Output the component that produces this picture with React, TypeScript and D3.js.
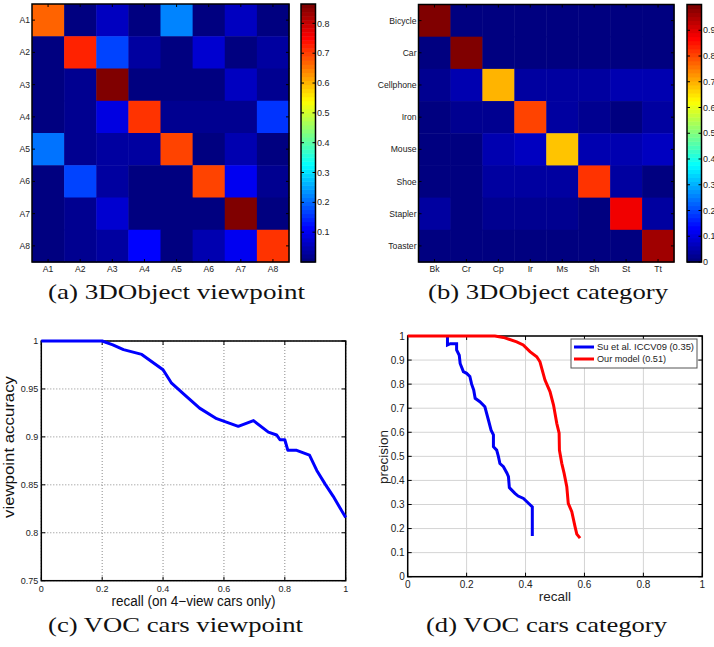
import { useEffect, useRef } from "react";
import * as d3 from "d3";

// (a) 3DObject viewpoint confusion matrix
const viewLabels = ["A1", "A2", "A3", "A4", "A5", "A6", "A7", "A8"];
const viewMatrix = [
  [0.67, 0.01, 0.06, 0.01, 0.225, 0.01, 0.055, 0.01],
  [0.01, 0.72, 0.17, 0.035, 0.01, 0.08, 0.01, 0.028],
  [0.01, 0.02, 0.865, 0.01, 0.01, 0.01, 0.06, 0.02],
  [0.01, 0.02, 0.085, 0.705, 0.025, 0.025, 0.02, 0.155],
  [0.21, 0.02, 0.036, 0.028, 0.69, 0.01, 0.044, 0.01],
  [0.01, 0.175, 0.036, 0.01, 0.01, 0.7, 0.095, 0.02],
  [0.01, 0.02, 0.078, 0.01, 0.01, 0.01, 0.865, 0.01],
  [0.01, 0.02, 0.036, 0.12, 0.01, 0.044, 0.095, 0.71],
];
const viewTicks = [0.1, 0.2, 0.3, 0.4, 0.5, 0.6, 0.7, 0.8];

// (b) 3DObject category confusion matrix
const catRowLabels = ["Bicycle", "Car", "Cellphone", "Iron", "Mouse", "Shoe", "Stapler", "Toaster"];
const catColLabels = ["Bk", "Cr", "Cp", "Ir", "Ms", "Sh", "St", "Tt"];
const catMatrix = [
  [0.99, 0.01, 0.01, 0.01, 0.01, 0.01, 0.01, 0.01],
  [0.01, 0.99, 0.01, 0.01, 0.01, 0.01, 0.01, 0.01],
  [0.03, 0.05, 0.69, 0.04, 0.04, 0.04, 0.055, 0.05],
  [0.01, 0.025, 0.025, 0.806, 0.04, 0.02, 0.015, 0.045],
  [0.015, 0.01, 0.05, 0.07, 0.68, 0.05, 0.05, 0.075],
  [0.015, 0.01, 0.04, 0.04, 0.04, 0.82, 0.04, 0.005],
  [0.04, 0.01, 0.03, 0.03, 0.03, 0.01, 0.875, 0.04],
  [0.015, 0.015, 0.015, 0.015, 0.015, 0.015, 0.015, 0.96],
];
const catTicks = [0, 0.1, 0.2, 0.3, 0.4, 0.5, 0.6, 0.7, 0.8, 0.9];

// (c) VOC cars viewpoint
const viewRecall = [0, 0.2, 0.235, 0.27, 0.33, 0.4, 0.428, 0.47, 0.52, 0.576, 0.647, 0.697, 0.746, 0.773, 0.784, 0.8, 0.81, 0.839, 0.881, 0.905, 0.932, 0.959, 0.981, 1.0];
const viewAccuracy = [1, 1, 0.996, 0.991, 0.986, 0.97, 0.956, 0.944, 0.93, 0.919, 0.911, 0.917, 0.905, 0.902, 0.897, 0.897, 0.886, 0.886, 0.881, 0.865, 0.851, 0.838, 0.826, 0.816];
const cXTicks = [0, 0.2, 0.4, 0.6, 0.8, 1];
const cYTicks = [0.75, 0.8, 0.85, 0.9, 0.95, 1];

// (d) VOC cars category
const suRecall = [0.135, 0.135, 0.145, 0.166, 0.166, 0.175, 0.178, 0.189, 0.2, 0.211, 0.217, 0.224, 0.229, 0.245, 0.262, 0.274, 0.283, 0.291, 0.291, 0.302, 0.308, 0.313, 0.325, 0.337, 0.342, 0.345, 0.364, 0.375, 0.393, 0.41, 0.423, 0.423];
const suPrecision = [1.0, 0.963, 0.968, 0.968, 0.942, 0.92, 0.886, 0.852, 0.845, 0.832, 0.8, 0.776, 0.741, 0.727, 0.706, 0.651, 0.609, 0.589, 0.54, 0.526, 0.499, 0.47, 0.457, 0.43, 0.416, 0.37, 0.346, 0.335, 0.325, 0.305, 0.29, 0.169];
const ourRecall = [0, 0.296, 0.325, 0.37, 0.392, 0.415, 0.438, 0.449, 0.466, 0.483, 0.495, 0.506, 0.514, 0.515, 0.523, 0.531, 0.54, 0.545, 0.557, 0.568, 0.574, 0.585];
const ourPrecision = [1, 1, 0.994, 0.976, 0.963, 0.935, 0.914, 0.893, 0.817, 0.769, 0.713, 0.637, 0.596, 0.526, 0.471, 0.429, 0.374, 0.305, 0.27, 0.208, 0.177, 0.16];
const legendLabels = ["Su et al. ICCV09 (0.35)", "Our model (0.51)"];
const dXTicks = [0, 0.2, 0.4, 0.6, 0.8, 1];
const dYTicks = [0, 0.1, 0.2, 0.3, 0.4, 0.5, 0.6, 0.7, 0.8, 0.9, 1];

const captions = ["(a) 3DObject viewpoint", "(b) 3DObject category", "(c) VOC cars viewpoint", "(d) VOC cars category"];

const SANS = "'Liberation Sans', Arial, Helvetica, sans-serif";
const SERIF = "'Liberation Serif', 'Times New Roman', serif";

// matlab jet, 64 levels
const jet = (t: number) => {
  const lvl = Math.max(0, Math.min(63, Math.floor(t * 64)));
  const u = lvl / 63;
  const c = (v: number) => Math.max(0, Math.min(1, v)) * 255;
  return d3.rgb(c(1.5 - Math.abs(4 * u - 3)), c(1.5 - Math.abs(4 * u - 2)), c(1.5 - Math.abs(4 * u - 1))).toString();
};

const fmt = (v: number) => (v === 0 ? "0" : v === 1 ? "1" : String(+v.toFixed(2)));

type Box = { left: number; right: number; top: number; bottom: number };

function drawMatrix(svg: any, matrix: number[][], rowLabels: string[], colLabels: string[], box: Box, cb: Box, vmax: number, ticks: number[]) {
  const g = svg.append("g");
  const x = d3.scaleBand<number>().domain(d3.range(colLabels.length)).range([box.left, box.right]);
  const y = d3.scaleBand<number>().domain(d3.range(rowLabels.length)).range([box.top, box.bottom]);
  const color = d3.scaleLinear().domain([0, vmax]).range([0, 1]).clamp(true);

  matrix.forEach((row, i) => {
    row.forEach((v, j) => {
      g.append("rect")
        .attr("x", x(j))
        .attr("y", y(i))
        .attr("width", x.bandwidth() + 0.5)
        .attr("height", y.bandwidth() + 0.5)
        .attr("fill", jet(color(v)));
    });
  });

  // ticks inside
  const tl = 3;
  d3.range(colLabels.length).forEach((j) => {
    const cx = x(j)! + x.bandwidth() / 2;
    g.append("line").attr("x1", cx).attr("x2", cx).attr("y1", box.bottom).attr("y2", box.bottom - tl).attr("stroke", "#000");
    g.append("line").attr("x1", cx).attr("x2", cx).attr("y1", box.top).attr("y2", box.top + tl).attr("stroke", "#000");
  });
  d3.range(rowLabels.length).forEach((i) => {
    const cy = y(i)! + y.bandwidth() / 2;
    g.append("line").attr("x1", box.left).attr("x2", box.left + tl).attr("y1", cy).attr("y2", cy).attr("stroke", "#000");
    g.append("line").attr("x1", box.right).attr("x2", box.right - tl).attr("y1", cy).attr("y2", cy).attr("stroke", "#000");
  });

  g.append("rect")
    .attr("x", box.left).attr("y", box.top)
    .attr("width", box.right - box.left).attr("height", box.bottom - box.top)
    .attr("fill", "none").attr("stroke", "#000").attr("stroke-width", 1.5);

  g.selectAll(".rl").data(rowLabels).enter().append("text")
    .attr("x", box.left - 2)
    .attr("y", (_: string, i: number) => y(i)! + y.bandwidth() / 2)
    .attr("dy", "0.35em")
    .attr("text-anchor", "end")
    .attr("font-family", SANS).attr("font-size", 8.6).attr("fill", "#222")
    .text((d: string) => d);

  g.selectAll(".cl").data(colLabels).enter().append("text")
    .attr("x", (_: string, j: number) => x(j)! + x.bandwidth() / 2)
    .attr("y", box.bottom + 7)
    .attr("dy", "0.35em")
    .attr("text-anchor", "middle")
    .attr("font-family", SANS).attr("font-size", 8.6).attr("fill", "#222")
    .text((d: string) => d);

  // colorbar
  const cy = d3.scaleLinear().domain([0, vmax]).range([cb.bottom, cb.top]);
  d3.range(64).forEach((k) => {
    const v0 = (k / 64) * vmax;
    const v1 = ((k + 1) / 64) * vmax;
    g.append("rect")
      .attr("x", cb.left).attr("y", cy(v1))
      .attr("width", cb.right - cb.left).attr("height", cy(v0) - cy(v1) + 0.5)
      .attr("fill", jet((k + 0.5) / 64));
  });
  ticks.forEach((t) => {
    g.append("line").attr("x1", cb.right).attr("x2", cb.right - 3).attr("y1", cy(t)).attr("y2", cy(t)).attr("stroke", "#000");
    g.append("line").attr("x1", cb.left).attr("x2", cb.left + 3).attr("y1", cy(t)).attr("y2", cy(t)).attr("stroke", "#000");
    g.append("text")
      .attr("x", cb.right + 1.5).attr("y", cy(t)).attr("dy", "0.35em")
      .attr("font-family", SANS).attr("font-size", 9).attr("fill", "#222")
      .text(fmt(t));
  });
  g.append("rect")
    .attr("x", cb.left).attr("y", cb.top)
    .attr("width", cb.right - cb.left).attr("height", cb.bottom - cb.top)
    .attr("fill", "none").attr("stroke", "#000").attr("stroke-width", 1.5);
}

function drawAxes(svg: any, box: Box, xDom: number[], yDom: number[], xt: number[], yt: number[], gridStyle: { stroke: string; dash: string | null }, tickFont: number) {
  const g = svg.append("g");
  const x = d3.scaleLinear().domain(xDom).range([box.left, box.right]);
  const y = d3.scaleLinear().domain(yDom).range([box.bottom, box.top]);

  g.append("rect")
    .attr("x", box.left).attr("y", box.top)
    .attr("width", box.right - box.left).attr("height", box.bottom - box.top)
    .attr("fill", "#fff");

  xt.forEach((t) => {
    g.append("line").attr("x1", x(t)).attr("x2", x(t)).attr("y1", box.top).attr("y2", box.bottom)
      .attr("stroke", gridStyle.stroke).attr("stroke-width", 1).attr("stroke-dasharray", gridStyle.dash);
  });
  yt.forEach((t) => {
    g.append("line").attr("x1", box.left).attr("x2", box.right).attr("y1", y(t)).attr("y2", y(t))
      .attr("stroke", gridStyle.stroke).attr("stroke-width", 1).attr("stroke-dasharray", gridStyle.dash);
  });

  const tl = 4;
  xt.forEach((t) => {
    g.append("line").attr("x1", x(t)).attr("x2", x(t)).attr("y1", box.bottom).attr("y2", box.bottom - tl).attr("stroke", "#000");
    g.append("line").attr("x1", x(t)).attr("x2", x(t)).attr("y1", box.top).attr("y2", box.top + tl).attr("stroke", "#000");
    g.append("text")
      .attr("x", x(t)).attr("y", box.bottom + 8).attr("dy", "0.35em")
      .attr("text-anchor", "middle")
      .attr("font-family", SANS).attr("font-size", tickFont).attr("fill", "#222")
      .text(fmt(t));
  });
  yt.forEach((t) => {
    g.append("line").attr("x1", box.left).attr("x2", box.left + tl).attr("y1", y(t)).attr("y2", y(t)).attr("stroke", "#000");
    g.append("line").attr("x1", box.right).attr("x2", box.right - tl).attr("y1", y(t)).attr("y2", y(t)).attr("stroke", "#000");
    g.append("text")
      .attr("x", box.left - 3).attr("y", y(t)).attr("dy", "0.35em")
      .attr("text-anchor", "end")
      .attr("font-family", SANS).attr("font-size", tickFont).attr("fill", "#222")
      .text(fmt(t));
  });

  g.append("rect")
    .attr("x", box.left).attr("y", box.top)
    .attr("width", box.right - box.left).attr("height", box.bottom - box.top)
    .attr("fill", "none").attr("stroke", "#000").attr("stroke-width", 1.5);

  return { x, y, g };
}

const App = () => {
  const ref = useRef<SVGSVGElement>(null);

  useEffect(() => {
    const svg = d3.select(ref.current);
    svg.selectAll("*").remove();

    svg.append("rect").attr("width", 714).attr("height", 647).attr("fill", "#fff");

    drawMatrix(svg, viewMatrix, viewLabels, viewLabels,
      { left: 32, right: 289, top: 4, bottom: 262 },
      { left: 301, right: 315.5, top: 4, bottom: 262 }, 0.865, viewTicks);

    drawMatrix(svg, catMatrix, catRowLabels, catColLabels,
      { left: 418.5, right: 674, top: 4.5, bottom: 262 },
      { left: 687, right: 701.5, top: 4.5, bottom: 262 }, 1.0, catTicks);

    // (c)
    const c = drawAxes(svg, { left: 41.3, right: 345.7, top: 341, bottom: 580.7 }, [0, 1], [0.75, 1],
      cXTicks, cYTicks, { stroke: "#8a8a8a", dash: "1 2" }, 9);
    const lineC = d3.line<number>().x((_, i) => c.x(viewRecall[i])).y((d) => c.y(d));
    svg.append("path").datum(viewAccuracy).attr("d", lineC)
      .attr("fill", "none").attr("stroke", "#0000ff").attr("stroke-width", 3).attr("stroke-linejoin", "round");
    svg.append("text")
      .attr("x", 193.5).attr("y", 606).attr("text-anchor", "middle")
      .attr("font-family", SANS).attr("font-size", 14).attr("fill", "#111")
      .attr("textLength", 164).attr("lengthAdjust", "spacingAndGlyphs")
      .text("recall (on 4\u2212view cars only)");
    svg.append("text")
      .attr("transform", "translate(14,447) rotate(-90)").attr("text-anchor", "middle")
      .attr("font-family", SANS).attr("font-size", 14).attr("fill", "#111")
      .attr("textLength", 142).attr("lengthAdjust", "spacingAndGlyphs")
      .text("viewpoint accuracy");

    // (d)
    const d = drawAxes(svg, { left: 407.7, right: 702.3, top: 336, bottom: 576.7 }, [0, 1], [0, 1],
      dXTicks, dYTicks, { stroke: "#d4d4d4", dash: null }, 10);
    const lineSu = d3.line<number>().x((_, i) => d.x(suRecall[i])).y((v) => d.y(v));
    const lineOur = d3.line<number>().x((_, i) => d.x(ourRecall[i])).y((v) => d.y(v));
    svg.append("path").datum(suPrecision).attr("d", lineSu)
      .attr("fill", "none").attr("stroke", "#0000f5").attr("stroke-width", 3);
    svg.append("path").datum(ourPrecision).attr("d", lineOur)
      .attr("fill", "none").attr("stroke", "#ff0000").attr("stroke-width", 3);

    const leg = svg.append("g");
    leg.append("rect").attr("x", 571).attr("y", 339).attr("width", 126).attr("height", 29)
      .attr("fill", "#fff").attr("stroke", "#555").attr("stroke-width", 1);
    const legColors = ["#0000f5", "#ff0000"];
    const legWidths = [97, 69];
    legendLabels.forEach((lab, i) => {
      const ly = 347 + i * 12;
      leg.append("line").attr("x1", 574).attr("x2", 594).attr("y1", ly).attr("y2", ly)
        .attr("stroke", legColors[i]).attr("stroke-width", 3);
      leg.append("text").attr("x", 597).attr("y", ly).attr("dy", "0.35em")
        .attr("font-family", SANS).attr("font-size", 9.6).attr("fill", "#222")
        .attr("textLength", legWidths[i]).attr("lengthAdjust", "spacingAndGlyphs")
        .text(lab);
    });

    svg.append("text")
      .attr("x", 555).attr("y", 601).attr("text-anchor", "middle")
      .attr("font-family", SANS).attr("font-size", 13.5).attr("fill", "#222")
      .text("recall");
    svg.append("text")
      .attr("transform", "translate(388,457) rotate(-90)").attr("text-anchor", "middle")
      .attr("font-family", SANS).attr("font-size", 13.5).attr("fill", "#222")
      .text("precision");

    // captions
    const capPos = [
      { x: 48, y: 299, w: 257 },
      { x: 428, y: 299, w: 240 },
      { x: 48, y: 632, w: 255 },
      { x: 426, y: 632, w: 241 },
    ];
    captions.forEach((t, i) => {
      svg.append("text")
        .attr("x", capPos[i].x).attr("y", capPos[i].y)
        .attr("font-family", SERIF).attr("font-size", 22).attr("fill", "#111")
        .attr("textLength", capPos[i].w).attr("lengthAdjust", "spacingAndGlyphs")
        .text(t);
    });
  }, []);

  return (
    <svg
      ref={ref}
      width={714}
      height={647}
      style={{ position: "absolute", left: 0, top: 0, display: "block" }}
    />
  );
};

export default App;
